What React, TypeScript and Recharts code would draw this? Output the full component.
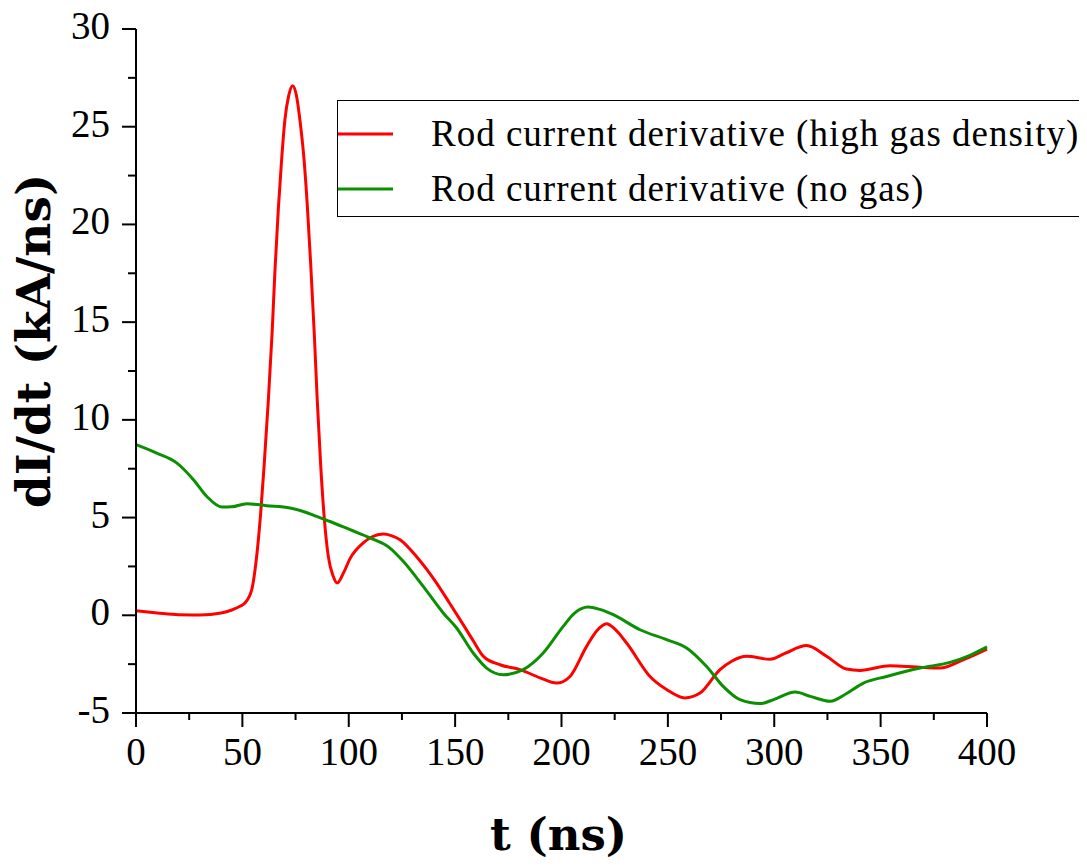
import React from 'react';
import { LineChart, Line, XAxis, YAxis, Legend, Label } from 'recharts';

// ---- data ----
const seriesNames = [
  'Rod current derivative (high gas density)',
  'Rod current derivative (no gas)',
];
const seriesColors = ['#ff0000', '#0a9000'];

const redT = [0, 10, 20, 30, 40, 45, 48.9, 51.2, 54.4, 56.7, 58.6, 60.2, 62.2, 64, 65.3, 66.9, 68.5, 70, 71.8, 73.6, 75.4, 77.1, 79, 80.5, 82.1, 83.8, 85.2, 86.8, 88.4, 90.4, 92.7, 94.6, 97.5, 100.6, 106.8, 111, 116.2, 120, 124.1, 131.9, 141.3, 147.5, 153.8, 158.5, 163.3, 171.1, 180.5, 189.9, 197.7, 204, 211.8, 216.5, 221.2, 225, 230.6, 241.6, 249.4, 258, 265.1, 274.5, 280, 287, 298, 305, 315.2, 324.6, 334, 340.3, 354.4, 366.9, 377.9, 389, 400];
const redY = [0.23, 0.12, 0.03, 0.02, 0.12, 0.27, 0.46, 0.63, 1.31, 3.0, 5.23, 7.62, 11.0, 14.5, 17.6, 20.8, 23.4, 25.36, 26.6, 27.1, 26.6, 25.3, 23.3, 21.0, 18.0, 14.4, 11.0, 7.7, 5.1, 3.0, 2.0, 1.65, 2.16, 2.9, 3.7, 4.02, 4.16, 4.08, 3.87, 3.0, 1.65, 0.6, -0.48, -1.3, -2.1, -2.53, -2.78, -3.2, -3.47, -3.13, -1.59, -0.8, -0.43, -0.7, -1.42, -3.13, -3.8, -4.23, -3.98, -2.78, -2.35, -2.1, -2.25, -1.95, -1.55, -2.1, -2.75, -2.82, -2.58, -2.65, -2.7, -2.27, -1.73];

const greenT = [0, 9.7, 19.1, 27, 33.3, 40.3, 45, 52, 61.4, 72.4, 79, 84.9, 91.2, 100.6, 110, 119.4, 125.6, 135, 144.4, 150.7, 158.5, 164.8, 172.6, 182, 191.4, 200.8, 206, 212.6, 218, 224.3, 236.9, 249.4, 258.8, 268.2, 276, 283.9, 293.3, 300, 309.8, 317, 326.3, 334, 341.9, 352.8, 368.5, 382.6, 392, 400];
const greenY = [8.73, 8.3, 7.8, 6.94, 6.08, 5.54, 5.55, 5.71, 5.61, 5.49, 5.3, 5.06, 4.8, 4.38, 3.96, 3.44, 2.76, 1.48, 0.12, -0.65, -1.93, -2.7, -3.04, -2.78, -1.93, -0.57, 0.1, 0.42, 0.3, 0.03, -0.74, -1.25, -1.67, -2.62, -3.64, -4.32, -4.52, -4.3, -3.93, -4.15, -4.4, -4.0, -3.47, -3.13, -2.7, -2.41, -2.05, -1.62];

const xTicks = [0, 25, 50, 75, 100, 125, 150, 175, 200, 225, 250, 275, 300, 325, 350, 375, 400];
const xMajor = [0, 50, 100, 150, 200, 250, 300, 350, 400];
const yTicks = [-5, -2.5, 0, 2.5, 5, 7.5, 10, 12.5, 15, 17.5, 20, 22.5, 25, 27.5, 30];
const yMajor = [-5, 0, 5, 10, 15, 20, 25, 30];

const xLabel = 't (ns)';
const yLabel = 'dI/dt (kA/ns)';

const redData = redT.map((t, i) => ({ t, v: redY[i] }));
const greenData = greenT.map((t, i) => ({ t, v: greenY[i] }));

const tickFont = '"Liberation Serif", "Times New Roman", serif';
const labelFont = '"DejaVu Serif", serif';

const XTick = (props: any) => {
  const { x, y, payload } = props;
  const major = xMajor.includes(payload.value);
  return (
    <g>
      <line x1={x} x2={x} y1={y} y2={y + (major ? 14 : 7)} stroke="#000" strokeWidth={2} />
      {major && (
        <text x={x} y={y + 52} textAnchor="middle" fontFamily={tickFont} fontSize={39} fill="#000">
          {payload.value}
        </text>
      )}
    </g>
  );
};

const YTick = (props: any) => {
  const { x, y, payload } = props;
  const major = yMajor.includes(payload.value);
  return (
    <g>
      <line x1={x - (major ? 14 : 8)} x2={x} y1={y} y2={y} stroke="#000" strokeWidth={2} />
      {major && (
        <text x={x - 26} y={y + 10} textAnchor="end" fontFamily={tickFont} fontSize={39} fill="#000">
          {payload.value}
        </text>
      )}
    </g>
  );
};

const LegendBox = () => (
  <div style={{ width: 746, height: 115, border: '1.5px solid #000', background: '#fff' }}>
    <svg width={746} height={115} style={{ display: 'block', overflow: 'visible' }}>
      {seriesNames.map((name, i) => (
        <g key={name}>
          <line x1={0} x2={55} y1={33 + i * 55} y2={33 + i * 55} stroke={seriesColors[i]} strokeWidth={3} />
          <text x={93} y={45 + i * 55} fontFamily={tickFont} fontSize={37} letterSpacing={1.0} fill="#000">
            {name}
          </text>
        </g>
      ))}
    </svg>
  </div>
);

export default function App() {
  return (
    <LineChart width={1079} height={859} margin={{ top: 21, right: 100, bottom: 0, left: 0 }}>
      <XAxis
        dataKey="t"
        type="number"
        domain={[0, 400]}
        ticks={xTicks}
        interval={0}
        tickSize={0}
        tickMargin={0}
        tickLine={false}
        tick={<XTick />}
        height={154}
        axisLine={{ stroke: '#000', strokeWidth: 2 }}
        allowDuplicatedCategory={false}
      >
        <Label
          content={(p: any) => {
            const vb = p.viewBox;
            return (
              <text x={vb.x + vb.width / 2 - 3} y={vb.y + 137} textAnchor="middle" fontFamily={labelFont} fontWeight="bold" fontSize={45} fill="#000">
                {xLabel}
              </text>
            );
          }}
        />
      </XAxis>
      <YAxis
        type="number"
        domain={[-5, 30]}
        ticks={yTicks}
        interval={0}
        tickSize={0}
        tickMargin={0}
        tickLine={false}
        tick={<YTick />}
        width={128}
        axisLine={{ stroke: '#000', strokeWidth: 2 }}
      >
        <Label
          content={(p: any) => {
            const vb = p.viewBox;
            const cx = vb.x + 42;
            const cy = vb.y + vb.height / 2 - 30;
            return (
              <text x={cx} y={cy} transform={`rotate(-90 ${cx} ${cy})`} textAnchor="middle" fontFamily={labelFont} fontWeight="bold" fontSize={47} fill="#000">
                {yLabel}
              </text>
            );
          }}
        />
      </YAxis>
      <Legend
        layout="horizontal"
        verticalAlign="middle"
        align="center"
        content={<LegendBox />}
        wrapperStyle={{ left: 329, top: 92, width: 'auto' }}
      />
      <Line data={redData} dataKey="v" name={seriesNames[0]} type="monotone" stroke={seriesColors[0]} strokeWidth={3} dot={false} isAnimationActive={false} />
      <Line data={greenData} dataKey="v" name={seriesNames[1]} type="monotone" stroke={seriesColors[1]} strokeWidth={3} dot={false} isAnimationActive={false} />
    </LineChart>
  );
}
